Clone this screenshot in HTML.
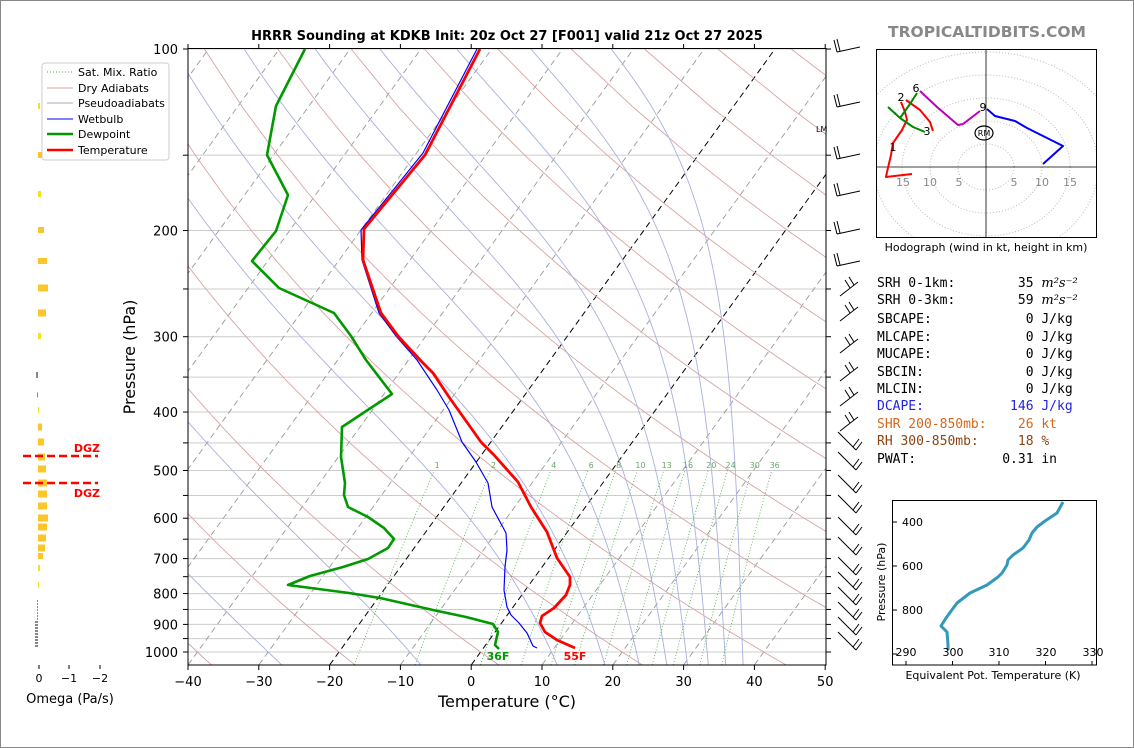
<!DOCTYPE html>
<html><head><meta charset="utf-8">
<style>
html,body{margin:0;padding:0;background:#fff;}
svg{display:block;}
text{font-family:"DejaVu Sans","Liberation Sans",sans-serif;}
.mono{font-family:"DejaVu Sans Mono","Liberation Mono",monospace;font-size:13px;white-space:pre;}
</style></head>
<body>
<svg id="s" width="1134" height="748" viewBox="0 0 1134 748" xmlns="http://www.w3.org/2000/svg">
<rect x="0.5" y="0.5" width="1133" height="747" fill="#fff" stroke="#888"/>
<defs><clipPath id="cp"><rect x="188" y="48" width="638" height="617"/></clipPath></defs>
<g id="bg" clip-path="url(#cp)"></g>
<g clip-path="url(#cp)" fill="none" stroke-linejoin="round">
<polyline stroke="#00f" stroke-width="1.2" points="477,49 423,153 361,230 362,260 379,313 396,336 417,360 437,390 449,410 462,442 476,462 488,483 492,507 506,533 507,550 505,567 504,590 507,607 511,615 519,623 527,633 533,646 537,648"/>
<polyline stroke="#090" stroke-width="2.6" points="305,49 276,106 267,155 288,195 276,231 252,261 279,288 334,313 351,336 366,360 392,394 342,427 341,457 345,483 344,495 348,507 368,517 384,528 394,539 388,548 368,559 343,567 310,576 288,585 349,593 380,598 433,610 466,617 493,624 498,632 495,645 499,649"/>
<polyline stroke="#f00" stroke-width="2.8" points="480,49 425,155 364,229 363,260 381,313 398,336 420,360 433,373 449,397 481,442 494,455 518,482 531,507 547,532 557,558 570,577 570,585 566,595 554,608 542,616 540,623 545,632 557,640 575,648"/>
</g>
<text x="498" y="660" fill="#090" font-size="11" font-weight="bold" text-anchor="middle">36F</text>
<text x="575" y="660" fill="#f00" font-size="11" font-weight="bold" text-anchor="middle">55F</text>
<rect x="188" y="48.5" width="638" height="616.5" fill="none" stroke="#000" stroke-width="1"/>
<g id="ax"></g>
<text x="816" y="132" font-size="8">LM</text>
<text x="507" y="40" font-size="13" font-weight="bold" text-anchor="middle">HRRR Sounding at KDKB Init: 20z Oct 27 [F001] valid 21z Oct 27 2025</text>
<text x="987" y="37" font-size="15.5" font-weight="bold" fill="#888" text-anchor="middle" font-family="Liberation Sans">TROPICALTIDBITS.COM</text>
<text x="507" y="707" font-size="16" text-anchor="middle">Temperature (°C)</text>
<text transform="translate(135,357) rotate(-90)" font-size="16" text-anchor="middle">Pressure (hPa)</text>

<rect x="42" y="63" width="127" height="97" rx="3" fill="#fff" stroke="#ccc"/>
<g font-size="11">
<line x1="47" y1="72" x2="73" y2="72" stroke="#4a4" stroke-dasharray="1,2"/><text x="78" y="76">Sat. Mix. Ratio</text>
<line x1="47" y1="88" x2="73" y2="88" stroke="#d9a3a3"/><text x="78" y="92">Dry Adiabats</text>
<line x1="47" y1="103" x2="73" y2="103" stroke="#aab"/><text x="78" y="107">Pseudoadiabats</text>
<line x1="47" y1="119" x2="73" y2="119" stroke="#00f"/><text x="78" y="123">Wetbulb</text>
<line x1="47" y1="134" x2="73" y2="134" stroke="#090" stroke-width="2.5"/><text x="78" y="138">Dewpoint</text>
<line x1="47" y1="150" x2="73" y2="150" stroke="#f00" stroke-width="2.5"/><text x="78" y="154">Temperature</text>
</g>
<g id="om"></g>
<line x1="23" y1="456" x2="98" y2="456" stroke="#f00" stroke-width="2.5" stroke-dasharray="8,4"/>
<line x1="23" y1="483" x2="98" y2="483" stroke="#f00" stroke-width="2.5" stroke-dasharray="8,4"/>
<text x="100" y="452" font-size="11" font-weight="bold" fill="#f00" text-anchor="end">DGZ</text>
<text x="100" y="497" font-size="11" font-weight="bold" fill="#f00" text-anchor="end">DGZ</text>
<g font-size="11" text-anchor="middle">
<line x1="39" y1="665" x2="39" y2="669" stroke="#000"/><text x="39" y="682">0</text>
<line x1="69" y1="665" x2="69" y2="669" stroke="#000"/><text x="69" y="682">−1</text>
<line x1="100" y1="665" x2="100" y2="669" stroke="#000"/><text x="100" y="682">−2</text>
</g>
<text x="70" y="703" font-size="13" text-anchor="middle">Omega (Pa/s)</text>

<g id="barbs" stroke="#000" stroke-width="1" fill="none"></g>

<defs><clipPath id="hc"><rect x="877" y="50" width="219" height="187"/></clipPath></defs>
<rect x="876.5" y="49.5" width="220" height="188" fill="#fff" stroke="#000"/>
<g clip-path="url(#hc)" fill="none" stroke="#bbb" stroke-dasharray="1,2">
<ellipse cx="986" cy="167" rx="28" ry="23"/><ellipse cx="986" cy="167" rx="56" ry="46"/>
<ellipse cx="986" cy="167" rx="84" ry="69"/><ellipse cx="986" cy="167" rx="112" ry="92"/>
<ellipse cx="986" cy="167" rx="140" ry="115"/>
</g>
<line x1="986" y1="50" x2="986" y2="237" stroke="#000" stroke-width="0.8"/>
<line x1="877" y1="167" x2="1096" y2="167" stroke="#000" stroke-width="0.8"/>
<g font-size="11" fill="#888" text-anchor="middle">
<text x="903" y="186">15</text><text x="930" y="186">10</text><text x="959" y="186">5</text>
<text x="1014" y="186">5</text><text x="1042" y="186">10</text><text x="1070" y="186">15</text>
</g>
<g fill="none" stroke-width="2" stroke-linejoin="round">
<polyline stroke="#f00" points="912,174 886,177 887,172 891,155 893,143 902,130 907,120 905,112 901,102"/>
<polyline stroke="#f00" points="906,100 920,110 930,122 933,131"/>
<polyline stroke="#080" points="888,107 900,118 913,127 925,132"/>
<polyline stroke="#080" points="900,118 910,104 917,93"/>
<polyline stroke="#b0b" points="920,91 937,107 958,125 963,124 980,111"/>
<polyline stroke="#00f" points="987,109 995,116 1015,121 1027,128 1063,146 1043,164"/>
</g>
<g font-size="11" text-anchor="middle">
<text x="893" y="151">1</text><text x="901" y="101">2</text><text x="927" y="135">3</text><text x="916" y="92">6</text><text x="983" y="111">9</text>
</g>
<ellipse cx="984" cy="133" rx="9" ry="7" fill="none" stroke="#000" stroke-width="1.2"/>
<text x="984" y="136" font-size="8" text-anchor="middle">RM</text>
<text x="986" y="251" font-size="11" text-anchor="middle">Hodograph (wind in kt, height in km)</text>

<text x="877" y="287" class="mono">SRH 0-1km:        35 <tspan font-style="italic" font-family="DejaVu Serif">m²s⁻²</tspan></text>
<text x="877" y="304" class="mono">SRH 0-3km:        59 <tspan font-style="italic" font-family="DejaVu Serif">m²s⁻²</tspan></text>
<text x="877" y="323" class="mono">SBCAPE:            0 J/kg</text>
<text x="877" y="341" class="mono">MLCAPE:            0 J/kg</text>
<text x="877" y="358" class="mono">MUCAPE:            0 J/kg</text>
<text x="877" y="376" class="mono">SBCIN:             0 J/kg</text>
<text x="877" y="393" class="mono">MLCIN:             0 J/kg</text>
<text x="877" y="410" class="mono" fill="#2222dd">DCAPE:           146 J/kg</text>
<text x="877" y="428" class="mono" fill="#d2691e">SHR 200-850mb:    26 kt</text>
<text x="877" y="445" class="mono" fill="#8b4513">RH 300-850mb:     18 %</text>
<text x="877" y="463" class="mono">PWAT:           0.31 in</text>

<rect x="892.5" y="500.5" width="204" height="164.5" fill="#fff" stroke="#000"/>
<polyline fill="none" stroke="#39b" stroke-width="3" stroke-linejoin="round" points="1063,502 1057,513 1045,521 1037,527 1032,533 1029,540 1023,548 1013,555 1008,560 1007,565 1002,573 998,577 987,585 970,593 957,603 946,618 941,626 947,632 948,645 948,650"/>
<g stroke="#000">
<line x1="893" y1="522" x2="897" y2="522"/><line x1="893" y1="566" x2="897" y2="566"/><line x1="893" y1="610" x2="897" y2="610"/><line x1="893" y1="654" x2="897" y2="654"/>
<line x1="906" y1="665" x2="906" y2="661"/><line x1="952.5" y1="665" x2="952.5" y2="661"/><line x1="999" y1="665" x2="999" y2="661"/><line x1="1045.5" y1="665" x2="1045.5" y2="661"/><line x1="1092" y1="665" x2="1092" y2="661"/>
</g>
<g font-size="11">
<text x="902" y="526">400</text><text x="902" y="570">600</text><text x="902" y="614">800</text>
<text x="906" y="656" text-anchor="middle">290</text><text x="953" y="656" text-anchor="middle">300</text><text x="999" y="656" text-anchor="middle">310</text><text x="1046" y="656" text-anchor="middle">320</text><text x="1093" y="656" text-anchor="middle">330</text>
</g>
<text transform="translate(885,582) rotate(-90)" font-size="11" text-anchor="middle">Pressure (hPa)</text>
<text x="993" y="679" font-size="11" text-anchor="middle">Equivalent Pot. Temperature (K)</text>

<script>
(function(){
var NS="http://www.w3.org/2000/svg";
function yP(p){return 49+Math.log10(p/100)*603;}
function xTP(T,p){return 188+(T+40)*7.08+(665-yP(p))*0.723;}
var bg=document.getElementById('bg'),ax=document.getElementById('ax');
function el(g,tag,a,txt){var e=document.createElementNS(NS,tag);for(var k in a)e.setAttribute(k,a[k]);if(txt!==undefined)e.textContent=txt;g.appendChild(e);return e;}
for(var p=100;p<=1000;p+=50){var y=yP(p);el(bg,'line',{x1:188,x2:826,y1:y,y2:y,stroke:'#ccc','stroke-width':1});}
for(var T=-130;T<=50;T+=10){var blk=(T==0||T==-20);
el(bg,'line',{x1:xTP(T,1050),y1:yP(1050),x2:xTP(T,100),y2:yP(100),stroke:blk?'#000':'#999','stroke-width':blk?1:0.9,'stroke-dasharray':'6,4'});}
for(var thc=-60;thc<=220;thc+=20){var th=thc+273.15,d='';for(var p=1050;p>=100;p-=25){var t=th*Math.pow(p/1000,0.2857)-273.15;d+=(d?'L':'M')+xTP(t,p).toFixed(1)+','+yP(p).toFixed(1);}
el(bg,'path',{d:d,fill:'none',stroke:'#d9a3a3','stroke-width':0.9});}
function es(Tc){return 6.112*Math.exp(17.67*Tc/(Tc+243.5));}
function dTdp(T,p){var Tc=T-273.15,e=es(Tc),rs=0.622*e/(p-e);return (287.04*T+2.501e6*rs)/(p*(1005.7+2.501e6*2.501e6*rs*0.622/(287.04*T*T)));}
[-70,-50,-30,-10,10,17,22,26,29,32,34.5,37].forEach(function(t0){var pts=[];var T=t0+273.15;
 var Tb=T;for(var p=1000;p<1050;p+=5){Tb+=dTdp(Tb,p)*5;} pts.push([Tb,1050]);
 T=t0+273.15;for(var p=1000;p>=100;p-=5){pts.push([T,p]);var k1=dTdp(T,p),Tm=T-k1*2.5,k2=dTdp(Tm,p-2.5);T-=k2*5;if(T<120)break;}
 var d='';pts.forEach(function(q){d+=(d?'L':'M')+xTP(q[0]-273.15,q[1]).toFixed(1)+','+yP(q[1]).toFixed(1);});
 el(bg,'path',{d:d,fill:'none',stroke:'#aab0dd','stroke-width':0.9});});
var ws=[1,2,4,6,8,10,13,16,20,24,30,36];
ws.forEach(function(w){var d='';for(var p=1050;p>=500;p-=25){var wk=w/1000,e=wk*p/(0.622+wk),l=Math.log(e/6.112),td=243.5*l/(17.67-l);d+=(d?'L':'M')+xTP(td,p).toFixed(1)+','+yP(p).toFixed(1);}
 el(bg,'path',{d:d,fill:'none',stroke:'#4a4','stroke-width':0.8,'stroke-dasharray':'1,2'});
 var wk=w/1000,p=500,e=wk*p/(0.622+wk),l=Math.log(e/6.112),td=243.5*l/(17.67-l);
 el(bg,'text',{x:xTP(td,492),y:468,'font-size':8,fill:'#6a6','text-anchor':'middle'},String(w));});
for(var T=-40;T<=50;T+=10){var x=188+(T+40)*7.08;el(ax,'line',{x1:x,x2:x,y1:665,y2:670,stroke:'#000'});el(ax,'line',{x1:x,x2:x,y1:48,y2:44,stroke:'#000'});
 el(ax,'text',{x:x,y:686,'font-size':13,'text-anchor':'middle'},(T<0?'−'+(-T):String(T)));}
for(var p=100;p<=1000;p+=50){var y=yP(p);el(ax,'line',{x1:183,x2:188,y1:y,y2:y,stroke:'#000'});el(ax,'line',{x1:826,x2:831,y1:y,y2:y,stroke:'#000'});
 if(p%100==0)el(ax,'text',{x:178,y:y+5,'font-size':13,'text-anchor':'end'},String(p));}
var om=document.getElementById('om');
var bars=[[106,2,6],[155,4,6],[194,3,6],[230,6,6],[261,9,6],[288,10,7],[313,8,7],[336,3,6],[410,1,6],[427,4,7],[442,6,7],[457,7,7],[469,8,7],[483,9,7],[494,9,7],[506,9,7],[518,10,7],[527,9,7],[538,8,7],[548,7,7],[556,5,6],[568,2,6],[585,1,6]];
bars.forEach(function(b){el(om,'rect',{x:38,y:b[0]-b[2]/2,width:b[1],height:b[2],fill:b[1]>3?'#fcc62a':'#f5e020'});});
[[375,2,6],[395,1,5]].forEach(function(b){el(om,'rect',{x:38-b[1],y:b[0]-b[2]/2,width:b[1],height:b[2],fill:'#888'});});
for(var y=600;y<648;y+=3){el(om,'rect',{x:y>620?35:37,y:y,width:y>620?3:1,height:2,fill:'#888'});}
var bb=document.getElementById('barbs');
[48,103,155,192,230,262].forEach(function(y){el(bb,'path',{d:'M837,'+(y+4)+'L860,'+(y-1)+'M837,'+(y+4)+'L834,'+(y-8)+'M840,'+(y+3)+'L837,'+(y-9)});});
[290,315,347,375,400,425].forEach(function(y){el(bb,'path',{d:'M840,'+(y+6)+'L858,'+(y-8)+'M850,'+(y-2)+'L845,'+(y-10)+'M854,'+(y-5)+'L849,'+(y-13)});});
[450,470,493,513,535,555,575,590,605,620,635,650].forEach(function(y){el(bb,'path',{d:'M838,'+(y-18)+'L856,'+y+'M856,'+y+'L862,'+(y-8)+'M853,'+(y-3)+'L859,'+(y-11)});});
})();
</script>
</svg>
</body></html>
